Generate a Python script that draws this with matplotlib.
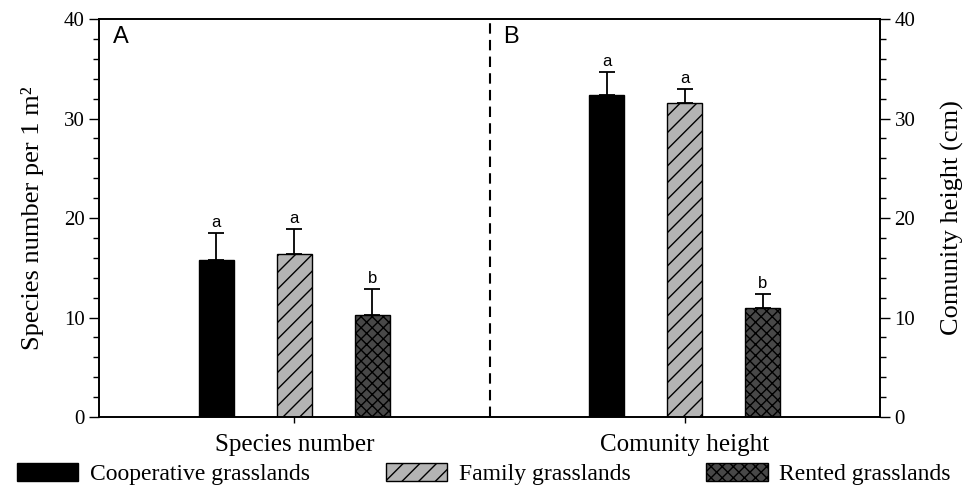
import numpy as np
import matplotlib
matplotlib.use('Agg')
import matplotlib.pyplot as plt
from matplotlib.patches import Patch
from matplotlib.ticker import MultipleLocator

groups = ['Species number', 'Comunity height']
types = ['Cooperative grasslands', 'Family grasslands', 'Rented grasslands']
species_mean = [15.8, 16.4, 10.3]
species_err = [2.7, 2.5, 2.6]
height_mean = [32.4, 31.6, 11.0]
height_err = [2.3, 1.4, 1.4]
letters_species = ['a', 'a', 'b']
letters_height = ['a', 'a', 'b']

colors = ['black', '#b4b4b4', '#484848']
hatches = ['', '//', 'xxx']

plt.rcParams['hatch.linewidth'] = 1.0
serif = 'Liberation Serif'
sans = 'Liberation Sans'

fig = plt.figure(figsize=(9.68, 4.9), dpi=100)
ax = fig.add_axes([0.1023, 0.149, 0.8068, 0.812])

centers = [1, 3]
offsets = np.array([-0.4, 0.0, 0.4])
width = 0.18

for g, (means, errs, letters) in enumerate([(species_mean, species_err, letters_species),
                                             (height_mean, height_err, letters_height)]):
    for i in range(3):
        x = centers[g] + offsets[i]
        ax.bar(x, means[i], width=width, color=colors[i], hatch=hatches[i],
               edgecolor='black', linewidth=1.0, zorder=2)
        ax.errorbar(x, means[i], yerr=[[0], [errs[i]]], fmt='none', ecolor='black',
                    elinewidth=1.3, capsize=6, capthick=1.3, zorder=3)
        ax.text(x, means[i] + errs[i] + 0.3, letters[i], ha='center', va='bottom',
                fontsize=12, family=sans)

# dashed line splitting the two panels
ax.axvline(2, color='black', linestyle='--', linewidth=1.5, dashes=(5, 3))
ax.set_xlim(0, 4)
ax.set_ylim(0, 40)
ax.set_xticks(centers)
ax.set_xticklabels(groups, fontsize=18, family=serif)
ax.tick_params(axis='x', length=4, width=1, pad=8)

ax.yaxis.set_major_locator(MultipleLocator(10))
ax.yaxis.set_minor_locator(MultipleLocator(2))
ax.tick_params(axis='y', which='major', direction='out', length=7, width=1, labelsize=15)
ax.tick_params(axis='y', which='minor', direction='out', length=4, width=1)
for lab in ax.get_yticklabels():
    lab.set_family(serif)
ax.set_ylabel('Species number per 1 m²', fontsize=19, family=serif, labelpad=14)

ax2 = ax.twinx()
ax2.set_ylim(0, 40)
ax2.yaxis.set_major_locator(MultipleLocator(10))
ax2.yaxis.set_minor_locator(MultipleLocator(2))
ax2.tick_params(axis='y', which='major', direction='out', length=7, width=1, labelsize=15)
ax2.tick_params(axis='y', which='minor', direction='out', length=4, width=1)
for lab in ax2.get_yticklabels():
    lab.set_family(serif)
ax2.set_ylabel('Comunity height (cm)', fontsize=19, family=serif, labelpad=18)

for a in (ax, ax2):
    for s in a.spines.values():
        s.set_linewidth(1.2)

ax.text(0.07, 38.2, 'A', fontsize=17, family=sans, va='center')
ax.text(2.07, 38.2, 'B', fontsize=17, family=sans, va='center')

handles = [Patch(facecolor=colors[i], edgecolor='black', hatch=hatches[i], linewidth=1.0)
           for i in range(3)]
fig.legend(handles, types, loc='center', ncol=3, frameon=False,
           bbox_to_anchor=(0.5, 0.033), prop={'family': serif, 'size': 17},
           handlelength=2.6, handleheight=0.8, columnspacing=3.2, handletextpad=0.5)

fig.savefig('out.png', dpi=100)
